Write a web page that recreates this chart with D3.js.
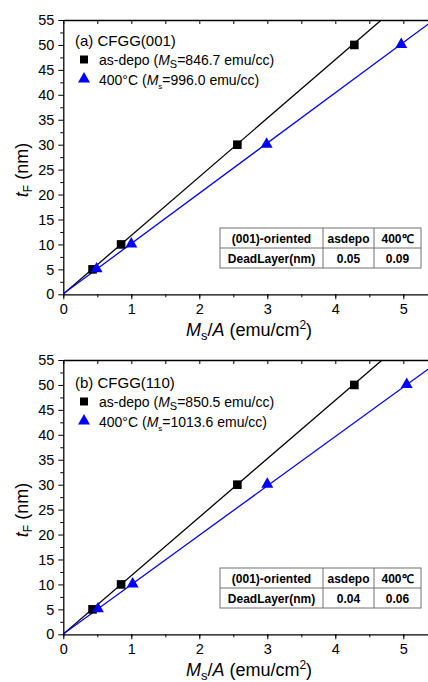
<!DOCTYPE html>
<html>
<head>
<meta charset="utf-8">
<script src="https://cdn.jsdelivr.net/npm/d3@7"></script>
<style>
  body { margin: 0; background: #fff; }
  svg { display: block; font-family: "Liberation Sans", Arial, sans-serif; }
  .tick text { font-size: 14.5px; fill: #000; }
  .tbl text { font-size: 12px; font-weight: bold; }
</style>
</head>
<body>
<svg id="chart" width="428" height="682"></svg>
<script>
// values
const xTicks = [0, 1, 2, 3, 4, 5];
const yTicks = [0, 5, 10, 15, 20, 25, 30, 35, 40, 45, 50, 55];
const thickness = [5, 10, 30, 50];

const panelNames = ["(a) CFGG(001)", "(b) CFGG(110)"];
const tableHeads = ["(001)-oriented", "(001)-oriented"];
const asDepoMs = ["846.7", "850.5"];
const annealMs = ["996.0", "1013.6"];
const asDepoX = [[0.43, 0.85, 2.56, 4.28], [0.43, 0.85, 2.56, 4.28]];
const annealX = [[0.49, 1.00, 2.99, 4.97], [0.51, 1.02, 3.00, 5.05]];
const asDepoSlope = [11.75, 11.72];
const annealSlope = [10.08, 9.90];
const deadAsDepo = ["0.05", "0.04"];
const deadAnneal = ["0.09", "0.06"];

const svg = d3.select("#chart");
const margin = {left: 63.3, top: 20},
  width = 5.4 * 68,
  height = 274.3,
  panelStep = 340;

panelNames.forEach(function(name, p) {
  const g = svg.append("g")
    .attr("transform", "translate(" + margin.left + "," + (margin.top + p * panelStep) + ")");
  const x = d3.scaleLinear().domain([0, 5.4]).range([0, width]);
  const y = d3.scaleLinear().domain([0, 55]).range([height, 0]);

  g.append("defs").append("clipPath").attr("id", "clip" + p)
    .append("rect").attr("width", width).attr("height", height);

  // axes
  g.append("g")
      .attr("transform", "translate(0," + height + ")")
      .call(d3.axisBottom(x).tickValues(d3.range(0, 5.5, 0.5)).tickSizeInner(3).tickSizeOuter(0).tickFormat(""))
      .call(a => a.select(".domain").remove());
  g.append("g")
      .attr("transform", "translate(0," + height + ")")
      .call(d3.axisBottom(x).tickValues(xTicks).tickSizeInner(5).tickSizeOuter(0).tickPadding(4).tickFormat(d3.format("d")))
      .call(a => a.select(".domain").attr("stroke-width", 1.3));
  g.append("g")
      .call(d3.axisTop(x).tickValues(d3.range(0, 5.5, 0.5)).tickSizeInner(-4).tickSizeOuter(0).tickFormat(""))
      .call(a => a.select(".domain").attr("stroke-width", 1.3));
  g.append("g")
      .call(d3.axisLeft(y).tickValues(d3.range(2.5, 55, 5)).tickSizeInner(3).tickSizeOuter(0).tickFormat(""))
      .call(a => a.select(".domain").remove());
  g.append("g")
      .call(d3.axisLeft(y).tickValues(yTicks).tickSizeInner(5).tickSizeOuter(0).tickPadding(4))
      .call(a => a.select(".domain").attr("stroke-width", 1.3));

  // fit lines
  const lines = g.append("g").attr("clip-path", "url(#clip" + p + ")");
  [[asDepoSlope[p], deadAsDepo[p], "#000"], [annealSlope[p], deadAnneal[p], "#0000ff"]].forEach(function(s) {
    lines.append("line")
      .attr("x1", x(0)).attr("y1", y(+s[1]))
      .attr("x2", x(5.4)).attr("y2", y(s[0] * 5.4 + +s[1]))
      .attr("stroke", s[2]).attr("stroke-width", 1.3);
  });

  // markers
  g.append("g").selectAll("rect")
    .data(asDepoX[p].map((v, i) => [v, thickness[i]]))
    .enter().append("rect")
      .attr("x", d => x(d[0]) - 4.3).attr("y", d => y(d[1]) - 4.3)
      .attr("width", 8.6).attr("height", 8.6).attr("fill", "#000");
  const tri = d3.symbol().type(d3.symbolTriangle).size(62);
  g.append("g").selectAll("path")
    .data(annealX[p].map((v, i) => [v, thickness[i]]))
    .enter().append("path")
      .attr("transform", d => "translate(" + x(d[0]) + "," + (y(d[1]) - 0.5) + ")")
      .attr("d", tri).attr("fill", "#0000ff");

  // legend
  const oy = p * panelStep + (p ? 2 : 0);
  svg.append("text").attr("x", 75).attr("y", 46 + oy).attr("font-size", 15).text(name);
  svg.append("rect").attr("x", 80).attr("y", 55.5 + oy).attr("width", 8).attr("height", 8).attr("fill", "#000");
  svg.append("path").attr("transform", "translate(84," + (79 + oy) + ")").attr("d", tri).attr("fill", "#0000ff");
  const t1 = svg.append("text").attr("x", 99).attr("y", 65 + oy).attr("font-size", 14);
  t1.append("tspan").text("as-depo (");
  t1.append("tspan").attr("font-style", "italic").text("M");
  t1.append("tspan").attr("font-size", 11).attr("dy", 3).text("S");
  t1.append("tspan").attr("dy", -3).text("=" + asDepoMs[p] + " emu/cc)");
  const t2 = svg.append("text").attr("x", 99).attr("y", 85 + oy).attr("font-size", 14);
  t2.append("tspan").text("400°C (");
  t2.append("tspan").attr("font-style", "italic").text("M");
  t2.append("tspan").attr("font-size", 8).attr("dy", 4).text("s");
  t2.append("tspan").attr("dy", -4).text("=" + annealMs[p] + " emu/cc)");

  // dead-layer table
  const tb = svg.append("g").attr("class", "tbl")
    .attr("transform", "translate(0," + (p * panelStep) + ")");
  const cols = [220, 323, 374, 421], rows = [228, 248, 268];
  const cells = [[tableHeads[p], "asdepo", "400℃"], ["DeadLayer(nm)", deadAsDepo[p], deadAnneal[p]]];
  tb.append("rect").attr("x", cols[0]).attr("y", rows[0])
    .attr("width", cols[3] - cols[0]).attr("height", rows[2] - rows[0])
    .attr("fill", "#fff").attr("stroke", "#707070");
  tb.append("line").attr("x1", cols[0]).attr("x2", cols[3]).attr("y1", rows[1]).attr("y2", rows[1]).attr("stroke", "#707070");
  [cols[1], cols[2]].forEach(c => tb.append("line").attr("x1", c).attr("x2", c).attr("y1", rows[0]).attr("y2", rows[2]).attr("stroke", "#707070"));
  cells.forEach(function(r, i) {
    r.forEach(function(c, j) {
      tb.append("text").attr("x", (cols[j] + cols[j + 1]) / 2).attr("y", rows[i] + 14.5)
        .attr("text-anchor", "middle").text(c);
    });
  });

  // axis titles
  const xt = svg.append("text").attr("x", 249).attr("y", 336 + p * panelStep)
    .attr("text-anchor", "middle").attr("font-size", 18);
  xt.append("tspan").attr("font-style", "italic").text("M");
  xt.append("tspan").attr("font-size", 13).attr("dy", 4).text("s");
  xt.append("tspan").attr("dy", -4).text("/");
  xt.append("tspan").attr("font-style", "italic").text("A");
  xt.append("tspan").text(" (emu/cm");
  xt.append("tspan").attr("font-size", 12).attr("dy", -7).text("2");
  xt.append("tspan").attr("dy", 7).text(")");

  const yt = svg.append("text")
    .attr("transform", "translate(28," + (170 + p * panelStep) + ") rotate(-90)")
    .attr("text-anchor", "middle").attr("font-size", 18);
  yt.append("tspan").attr("font-style", "italic").text("t");
  yt.append("tspan").attr("font-size", 12).attr("dy", 4).text("F");
  yt.append("tspan").attr("dy", -4).text(" (nm)");
});
</script>
</body>
</html>
